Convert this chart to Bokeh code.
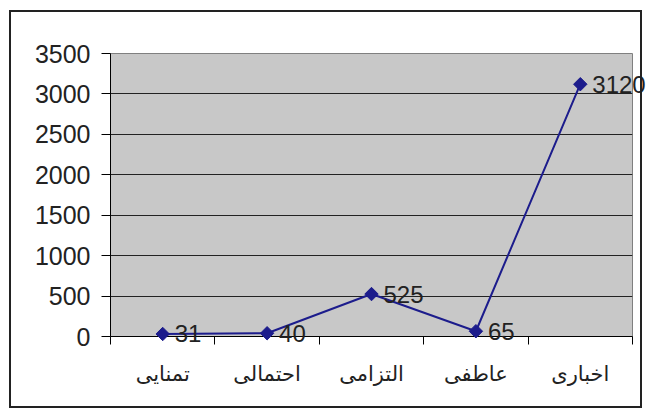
import math
from bokeh.plotting import figure
from bokeh.models import ColumnDataSource, FixedTicker, Range1d, LabelSet
from bokeh.core.properties import value
from bokeh.embed import file_html
from bokeh.resources import INLINE

categories = ["تمنایی", "احتمالی", "التزامی", "عاطفی", "اخباری"]
values = [31, 40, 525, 65, 3120]
y_ticks = [0, 500, 1000, 1500, 2000, 2500, 3000, 3500]
Y_MAX = 3500

N = len(categories)
xs = [i + 0.5 for i in range(N)]
src = ColumnDataSource(dict(x=xs, y=values, lab=[str(v) for v in values]))

# layout constants (pixels)
CANVAS_L, CANVAS_T = 11, 12
P_W, P_H = 633, 398
MB_L, MB_R, MB_T, MB_B = 99, 12, 41, 74
FRAME_L = CANVAS_L + MB_L
FRAME_T = CANVAS_T + MB_T
FRAME_W = P_W - MB_L - MB_R
FRAME_H = P_H - MB_T - MB_B

p = figure(width=P_W, height=P_H, output_backend="svg", toolbar_location=None,
           x_range=Range1d(0, N), y_range=Range1d(0, Y_MAX),
           min_border_left=MB_L, min_border_right=MB_R, min_border_top=MB_T, min_border_bottom=MB_B)
p.styles = {"margin-left": "9px", "margin-top": "10px", "border": "2px solid #222"}
p.background_fill_color = "#c8c8c8"
p.border_fill_color = "white"
p.outline_line_color = "#808080"
p.outline_line_width = 1

# y axis
p.yaxis.ticker = FixedTicker(ticks=y_ticks)
p.yaxis.axis_line_color = "black"
p.yaxis.major_tick_out = 9
p.yaxis.major_tick_in = 0
p.yaxis.minor_tick_line_color = None
p.yaxis.major_label_standoff = 11
p.yaxis.major_label_text_font = "Liberation Sans"
p.yaxis.major_label_text_font_size = "25px"
p.yaxis.major_label_text_color = "#222222"

# x axis: labels at category centers, ticks at boundaries
p.xaxis.ticker = FixedTicker(ticks=xs, minor_ticks=list(range(N + 1)))
p.xaxis.major_label_overrides = {x: c for x, c in zip(xs, categories)}
p.xaxis.major_tick_out = 0
p.xaxis.major_tick_in = 0
p.xaxis.minor_tick_out = 8
p.xaxis.minor_tick_in = 0
p.xaxis.minor_tick_line_color = "black"
p.xaxis.axis_line_color = "black"
p.xaxis.major_label_standoff = 17
p.xaxis.major_label_text_font = "Liberation Sans, DejaVu Sans"
p.xaxis.major_label_text_font_size = "21px"
p.xaxis.major_label_text_color = "#222222"

p.xgrid.grid_line_color = None
p.ygrid.ticker = FixedTicker(ticks=y_ticks)
p.ygrid.grid_line_color = "#222222"
p.ygrid.grid_line_width = 1

# transparent overlay (separate root, so no frame alignment) with the same
# scale but a larger frame, so markers and value labels are not clipped
W2 = 646 - FRAME_L
H2 = FRAME_H + 16
p2 = figure(width=W2, height=H2, output_backend="svg", toolbar_location=None,
            x_range=Range1d(0, N * W2 / FRAME_W),
            y_range=Range1d(Y_MAX - Y_MAX * H2 / FRAME_H, Y_MAX),
            x_axis_type=None, y_axis_type=None,
            min_border_left=0, min_border_right=0, min_border_top=0, min_border_bottom=0)
p2.styles = {"position": "absolute", "left": f"{FRAME_L}px", "top": f"{FRAME_T}px"}
p2.background_fill_color = None
p2.border_fill_color = None
p2.outline_line_color = None
p2.grid.grid_line_color = None

p2.line("x", "y", source=src, line_color="#1c1c8c", line_width=2)
p2.scatter("x", "y", source=src, marker="square", angle=math.pi / 4, size=9.5,
           fill_color="#1c1c8c", line_color="#1c1c8c")
p2.add_layout(LabelSet(x="x", y="y", text="lab", source=src, x_offset=12, y_offset=0,
                       text_baseline="middle", text_align="left",
                       text_font=value("Liberation Sans"),
                       text_font_size="24px", text_color="#222222"))

open("out.html", "w").write(file_html([p, p2], INLINE))
